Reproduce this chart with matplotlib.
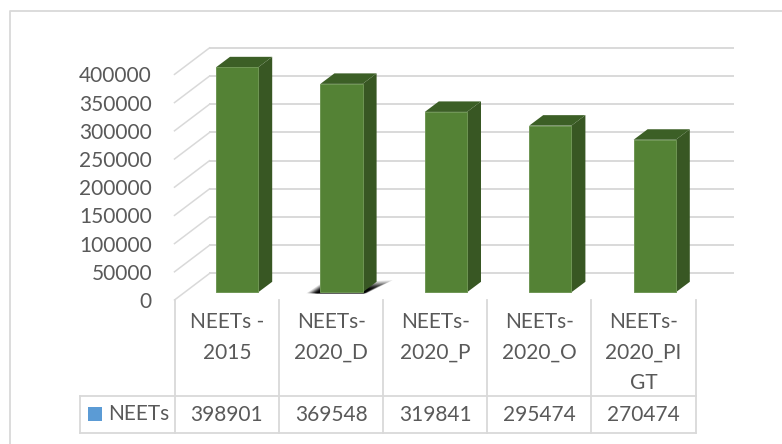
import matplotlib
matplotlib.use('Agg')
import matplotlib.pyplot as plt
from matplotlib.patches import Polygon, Rectangle

plt.rcParams['font.family'] = ['Lato', 'DejaVu Sans']

# data
categories = ['NEETs -\n2015', 'NEETs-\n2020_D', 'NEETs-\n2020_P', 'NEETs-\n2020_O', 'NEETs-\n2020_PI\nGT']
values = [398901, 369548, 319841, 295474, 270474]
series_name = 'NEETs'
y_ticks = [0, 50000, 100000, 150000, 200000, 250000, 300000, 350000, 400000]

W, H = 782, 444
GRID = '#D9D9D9'
TEXT = '#595959'
FACE = '#548235'
SIDE = '#385723'
TOP = '#3C5F26'

# pixel layout of the bars: first bar centre, spacing, px per unit of value
X0, STEP = 237.1, 104.4
BASE_Y, PX_PER_VALUE = 292.3, 0.000564
BAR_W = 42.2 / STEP
DX, DY = 14 / STEP, 10.5 / PX_PER_VALUE   # 3d depth of a bar

fig = plt.figure(figsize=(W / 100, H / 100), dpi=100, facecolor='white')

# frame axes in pixels for the outer border and the table
frame = fig.add_axes([0, 0, 1, 1])
frame.set_xlim(0, W)
frame.set_ylim(H, 0)
frame.axis('off')

# chart axes, category index on x and value on y
ax = fig.add_axes([0, 0, 1, 1])
ax.set_xlim((0 - X0) / STEP, (W - X0) / STEP)
ax.set_ylim((BASE_Y - H) / PX_PER_VALUE, BASE_Y / PX_PER_VALUE)
ax.axis('off')
ax.patch.set_alpha(0)

# outer border, only top and left show
frame.plot([9.5, 9.5, W], [H, 11, 11], color=GRID, lw=1.3)

# walls: back gridlines and the diagonals on the side wall
back_dy = 18.8 / PX_PER_VALUE
front_dy = -7.7 / PX_PER_VALUE
x_left = (174.5 - X0) / STEP
x_wall = (209.5 - X0) / STEP
x_right = (733 - X0) / STEP
for t in y_ticks:
    ax.plot([x_wall, x_right], [t + back_dy, t + back_dy], color=GRID, lw=1.4, zorder=1)
    ax.plot([x_left, x_wall], [t + front_dy, t + back_dy], color=GRID, lw=1.1, zorder=1)
    frame.text(152, BASE_Y - (t + front_dy) * PX_PER_VALUE + 2, str(t), ha='right', va='center',
               fontsize=15, color=TEXT)

# shadow under the second bar, layered from faint and wide to dark and narrow
px_x, px_y = 1 / STEP, 1 / PX_PER_VALUE
l2, r2 = 1 - BAR_W / 2, 1 + BAR_W / 2
for f, alpha in [(1.0, 0.12), (0.9, 0.15), (0.8, 0.2), (0.7, 0.25), (0.6, 0.35), (0.5, 0.45), (0.4, 0.6), (0.3, 0.8)]:
    ax.add_patch(Polygon([(l2 - 14 * f * px_x, -1 * px_y), (r2 + 4 * f * px_x, -1 * px_y),
                          (r2 + 30 * f * px_x, 12 * f * px_y), (l2 + 1 * px_x, 9 * f * px_y)],
                         closed=True, fc='black', ec='none', alpha=alpha, zorder=2))

# bars with their side and top faces
bars = ax.bar(range(len(values)), values, width=BAR_W, color=FACE, edgecolor='#6F9654', linewidth=0.7, zorder=4)
for i, v in enumerate(values):
    l, r = i - BAR_W / 2, i + BAR_W / 2
    ax.add_patch(Polygon([(r, 0), (r + DX, DY), (r + DX, v + DY), (r, v)], closed=True, fc=SIDE, ec='none', zorder=3))
    ax.add_patch(Polygon([(l, v), (l + DX, v + DY), (r + DX, v + DY), (r, v)], closed=True, fc=TOP, ec='none', zorder=3))

# data table under the chart
cell_x = [174.5, 279, 383.3, 487.3, 591.3, 695.7]
line_y = [322, 353, 382.5]
table_top, table_bot = 395.7, 433.3
for x in cell_x:
    frame.plot([x, x], [300, table_bot], color=GRID, lw=1.3)
frame.plot([80, 80], [table_top, table_bot], color=GRID, lw=1.3)
frame.plot([80, cell_x[-1]], [table_top, table_top], color=GRID, lw=1.3)
frame.plot([80, cell_x[-1]], [table_bot, table_bot], color=GRID, lw=1.3)

for i, (cat, v) in enumerate(zip(categories, values)):
    cx = (cell_x[i] + cell_x[i + 1]) / 2
    for line, y in zip(cat.split('\n'), line_y):
        frame.text(cx, y, line, ha='center', va='center', fontsize=15, color=TEXT)
    frame.text(cx, 415, str(v), ha='center', va='center', fontsize=15, color=TEXT)

frame.add_patch(Rectangle((88, 407), 14, 14, fc='#5B9BD5', ec='none'))
frame.text(108, 414, series_name, ha='left', va='center', fontsize=15, color=TEXT)

fig.savefig('out.png', dpi=100)
